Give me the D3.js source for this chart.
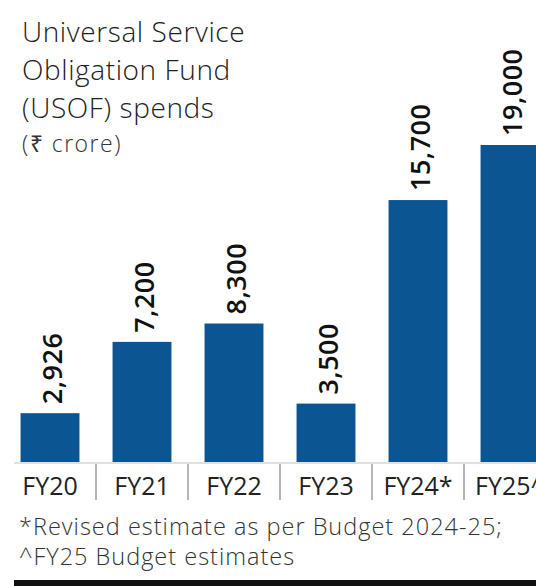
<!DOCTYPE html>
<html><head><meta charset="utf-8">
<script src="https://cdn.jsdelivr.net/npm/d3@7"></script>
<style>body{margin:0;background:#fff;}svg{display:block;}</style>
</head><body>
<svg id="c" width="536" height="586"></svg>
<script>
const categories = ["FY20","FY21","FY22","FY23","FY24*","FY25^"];
const values = [2926, 7200, 8300, 3500, 15700, 19000];
const valueLabels = ["2,926","7,200","8,300","3,500","15,700","19,000"];
const titleLines = ["Universal Service","Obligation Fund","(USOF) spends"];
const unitLine = "(₹ crore)";
const footLines = ["*Revised estimate as per Budget 2024-25;","^FY25 Budget estimates"];

const svg = d3.select("#c");
const font = "'Open Sans', sans-serif";
const baseY = 462;
const x = d3.scaleBand().domain(categories).range([4, 556]).paddingInner(0.36).paddingOuter(0.18);
const y = d3.scaleLinear().domain([0, 19000]).range([baseY, 145]);

// baseline
svg.append("line").attr("x1",14).attr("x2",536).attr("y1",baseY+1).attr("y2",baseY+1)
  .attr("stroke","#d6d6d6").attr("stroke-width",1.5);

svg.selectAll("rect.bar").data(values).join("rect").attr("class","bar")
  .attr("x",(d,i)=>x(categories[i])).attr("width",x.bandwidth())
  .attr("y",d=>y(d)).attr("height",d=>baseY-y(d)).attr("fill","#0b5592");

svg.selectAll("text.val").data(values).join("text").attr("class","val")
  .attr("transform",(d,i)=>`translate(${x(categories[i])+x.bandwidth()/2+12},${y(d)-9}) rotate(-90)`)
  .attr("text-anchor","start").attr("font-family",font).attr("font-weight",600)
  .attr("font-size",27).attr("fill","#111").attr("letter-spacing",0.5)
  .text((d,i)=>valueLabels[i]);

// x labels
svg.selectAll("text.cat").data(categories).join("text").attr("class","cat")
  .attr("x",d=>x(d)+x.bandwidth()/2).attr("y",495).attr("text-anchor","middle")
  .attr("font-family",font).attr("font-size",25).attr("fill","#222").text(d=>d);

// separators
svg.selectAll("line.sep").data(categories.slice(1)).join("line").attr("class","sep")
  .attr("x1",d=>x(d)-x.step()*x.paddingInner()/2).attr("x2",d=>x(d)-x.step()*x.paddingInner()/2)
  .attr("y1",464).attr("y2",500).attr("stroke","#b5b5b5").attr("stroke-width",2);

// title
svg.selectAll("text.title").data(titleLines).join("text").attr("class","title")
  .attr("x",22).attr("y",(d,i)=>42+i*38).attr("font-family",font).attr("font-weight",300)
  .attr("font-size",28).attr("letter-spacing",0.6).attr("fill","#222").text(d=>d);
svg.append("text").attr("x",22).attr("y",152).attr("font-family",font).attr("font-weight",300)
  .attr("font-size",23).attr("letter-spacing",1.5).attr("fill","#333").text(unitLine);

// footnote
svg.selectAll("text.foot").data(footLines).join("text").attr("class","foot")
  .attr("x",19).attr("y",(d,i)=>535+i*30).attr("font-family",font).attr("font-weight",300)
  .attr("font-size",23.5).attr("letter-spacing",1).attr("fill","#333").text(d=>d);

svg.append("rect").attr("x",14).attr("y",580).attr("width",522).attr("height",6).attr("fill","#111");
</script>
</body></html>
